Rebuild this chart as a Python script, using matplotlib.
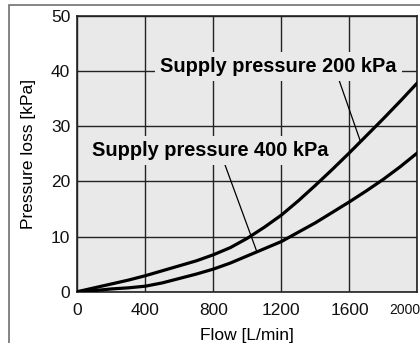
import matplotlib
matplotlib.use("Agg")
import matplotlib.pyplot as plt
from matplotlib.patches import Rectangle
from matplotlib.transforms import ScaledTranslation

plt.rcParams['font.family'] = ['Liberation Sans', 'DejaVu Sans']

flow = [0, 100, 200, 300, 400, 500, 600, 700, 800, 900, 1000,
        1100, 1200, 1300, 1400, 1500, 1600, 1700, 1800, 1900, 2000]
p200 = [0, 0.7, 1.4, 2.1, 2.9, 3.8, 4.7, 5.6, 6.7, 8.0, 9.7,
        11.7, 13.9, 16.5, 19.3, 22.2, 25.2, 28.3, 31.4, 34.6, 37.9]
p400 = [0, 0.2, 0.5, 0.7, 1.0, 1.6, 2.4, 3.2, 4.1, 5.2, 6.5,
        7.8, 9.1, 10.8, 12.5, 14.4, 16.3, 18.3, 20.4, 22.7, 25.2]

xticks = [0, 400, 800, 1200, 1600, 2000]
xticklabels = ['0', '400', '800', '1200', '1600', '2000']
yticks = [0, 10, 20, 30, 40, 50]

label200 = 'Supply pressure 200 kPa'
label400 = 'Supply pressure 400 kPa'

bg = '#e8e9e8'

fig = plt.figure(figsize=(4.2, 3.43), dpi=100)
ax = fig.add_axes([77.3/420, 1-291.7/343, (417.5-77.3)/420, (291.7-16)/343])
ax.set_facecolor(bg)
ax.set_xlim(0, 2000)
ax.set_ylim(0, 50)
ax.set_xticks(xticks)
ax.set_xticklabels(xticklabels)
ax.set_yticks(yticks)
ax.tick_params(length=0, labelsize=12.5, colors='#111111')
ax.tick_params(axis='x', pad=8)
ax.tick_params(axis='y', pad=5)
lbls = ax.get_xticklabels()
lbls[-1].set_fontsize(10)
lbls[-1].set_horizontalalignment('right')
lbls[-1].set_transform(lbls[-1].get_transform() + ScaledTranslation(2.5/100, 0, fig.dpi_scale_trans))
ax.grid(True, color='#222222', lw=1.0)
ax.set_axisbelow(True)
for s in ax.spines.values():
    s.set_color('#222222')
    s.set_linewidth(1.2)

ax.plot(flow, p200, color='black', lw=2.3, solid_capstyle='round', zorder=3)
ax.plot(flow, p400, color='black', lw=2.3, solid_capstyle='round', zorder=3)

bbox = dict(boxstyle='square,pad=0.25', fc=bg, ec='none')
ax.annotate(label200, xy=(1664, 27.3), xytext=(1182, 40.9), fontsize=14.4,
            fontweight='bold', ha='center', va='center', bbox=bbox, zorder=4,
            arrowprops=dict(arrowstyle='-', lw=0.9, color='black',
                            shrinkA=0, shrinkB=0, relpos=(0.75, 0.0)))
ax.annotate(label400, xy=(1055, 7.3), xytext=(780, 25.6), fontsize=14.4,
            fontweight='bold', ha='center', va='center', bbox=bbox, zorder=4,
            arrowprops=dict(arrowstyle='-', lw=0.9, color='black',
                            shrinkA=0, shrinkB=0, relpos=(0.556, 0.0)))

ax.set_xlabel('Flow [L/min]', fontsize=12.5, labelpad=7)
ax.set_ylabel('Pressure loss [kPa]', fontsize=12.5, labelpad=10.5)

fig.patches.append(Rectangle((9/420, -0.1), 1.2, 1 - 5/343 + 0.1,
                             transform=fig.transFigure, fill=False,
                             ec='#6f6f6f', lw=1.2, zorder=0))
fig.text(178/420, 1 + 20/343, '(', fontsize=14, fontweight='bold', va='top', ha='center')
fig.text(396/420, 1 + 20/343, ')', fontsize=14, fontweight='bold', va='top', ha='center')

fig.savefig('out.png', dpi=100)
